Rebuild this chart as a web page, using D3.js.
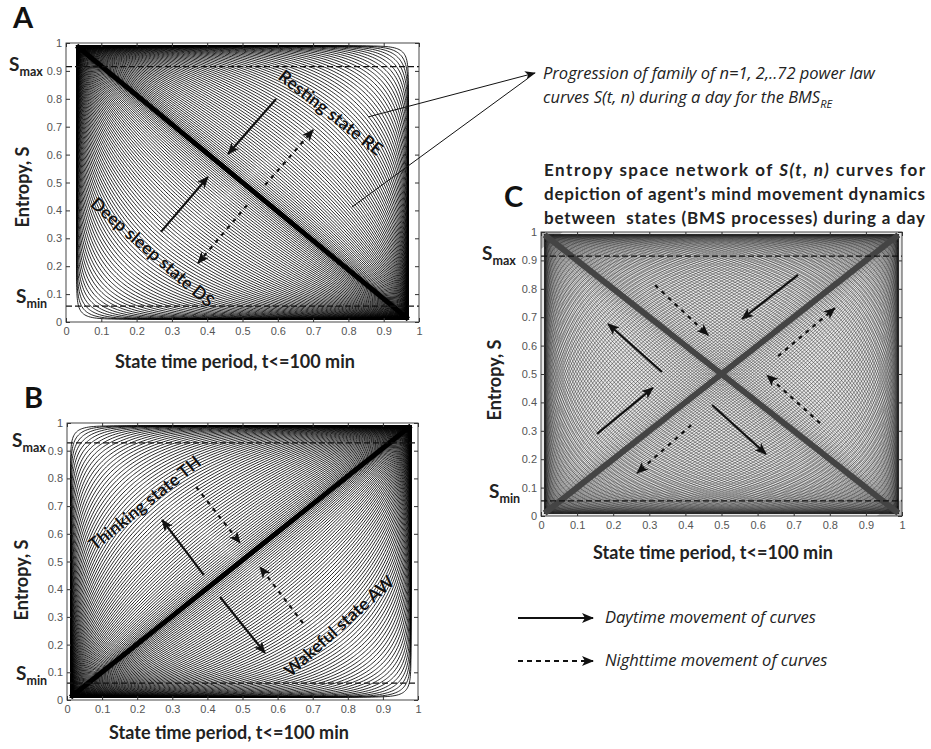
<!DOCTYPE html>
<html>
<head>
<meta charset="utf-8">
<script src="https://cdn.jsdelivr.net/npm/d3@7"></script>
<style>
  body { margin: 0; background: #fff; }
  svg { display: block; }
</style>
</head>
<body>
<svg id="fig" width="931" height="749"></svg>
<script>
// Tick values and labels (same on both axes)
const tickValues = [0, 0.1, 0.2, 0.3, 0.4, 0.5, 0.6, 0.7, 0.8, 0.9, 1];
const tickLabels = ['0', '0.1', '0.2', '0.3', '0.4', '0.5', '0.6', '0.7', '0.8', '0.9', '1'];

// Curve orders of the power law family, n = 1..72
const curveOrders = [1, 2, 3, 4, 5, 6, 7, 8, 9, 10, 11, 12, 13, 14, 15, 16, 17, 18, 19, 20, 21, 22, 23, 24,
  25, 26, 27, 28, 29, 30, 31, 32, 33, 34, 35, 36, 37, 38, 39, 40, 41, 42, 43, 44, 45, 46, 47, 48,
  49, 50, 51, 52, 53, 54, 55, 56, 57, 58, 59, 60, 61, 62, 63, 64, 65, 66, 67, 68, 69, 70, 71, 72];

// Dashed entropy limits for panels A, B, C
const sMaxLevels = [0.915, 0.928, 0.915];
const sMinLevels = [0.057, 0.061, 0.053];

// Movement arrows: [t from, S from, t to, S to, kind]
const arrowsA = [
  [0.595, 0.799, 0.459, 0.602, 'day'],
  [0.564, 0.491, 0.700, 0.688, 'night'],
  [0.269, 0.323, 0.402, 0.520, 'day'],
  [0.513, 0.419, 0.374, 0.211, 'night']
];
const arrowsB = [
  [0.390, 0.451, 0.271, 0.650, 'day'],
  [0.368, 0.769, 0.493, 0.567, 'night'],
  [0.436, 0.372, 0.564, 0.170, 'day'],
  [0.672, 0.278, 0.550, 0.480, 'night']
];
const arrowsC = [
  [0.712, 0.849, 0.557, 0.694, 'day'],
  [0.316, 0.813, 0.463, 0.637, 'night'],
  [0.335, 0.507, 0.186, 0.676, 'day'],
  [0.155, 0.289, 0.310, 0.451, 'day'],
  [0.657, 0.563, 0.814, 0.732, 'night'],
  [0.773, 0.327, 0.626, 0.496, 'night'],
  [0.474, 0.391, 0.623, 0.218, 'day'],
  [0.416, 0.320, 0.266, 0.151, 'night']
];

// State labels: [text, t, S, angle]
const statesA = [['Resting state RE', 0.75, 0.75, 38], ['Deep sleep state DS', 0.245, 0.25, 41]];
const statesB = [['Thinking state TH', 0.222, 0.711, -39], ['Wakeful state AW', 0.775, 0.267, -42]];

const svg = d3.select('#fig');
svg.append('rect').attr('width', 931).attr('height', 749).attr('fill', '#fff');

// Arrow head markers
const defs = svg.append('defs');
defs.append('marker')
  .attr('id', 'head')
  .attr('viewBox', '0 0 12 10')
  .attr('refX', 11).attr('refY', 5)
  .attr('markerWidth', 13).attr('markerHeight', 10)
  .attr('markerUnits', 'userSpaceOnUse')
  .attr('orient', 'auto')
  .append('path').attr('d', 'M0,0 L12,5 L0,10 L3,5 Z').attr('fill', '#111');
defs.append('marker')
  .attr('id', 'headSmall')
  .attr('viewBox', '0 0 12 10')
  .attr('refX', 11).attr('refY', 5)
  .attr('markerWidth', 12).attr('markerHeight', 9)
  .attr('markerUnits', 'userSpaceOnUse')
  .attr('orient', 'auto')
  .append('path').attr('d', 'M0,0 L12,5 L0,10 L3,5 Z').attr('fill', '#111');

// exponent for order n: spreads the family from the diagonal to the corner
function exponentFor(n) {
  const mid = 0.5 + 0.48 * Math.pow((n - 1) / 71, 1.25);
  return 1 / Math.log2(1 / mid);
}

// superellipse power-law curve a^p + b^p = 1, reflected by family
function curvePoints(p, family, box) {
  const m = Math.pow(0.5, 1 / p);
  const N = 60;
  const pts = [];
  for (let i = 0; i <= N; i++) {
    const a = m * Math.sin(i / N * Math.PI / 2);
    pts.push([a, Math.pow(1 - Math.pow(a, p), 1 / p)]);
  }
  for (let i = N; i >= 0; i--) {
    const b = m * Math.sin(i / N * Math.PI / 2);
    pts.push([Math.pow(1 - Math.pow(b, p), 1 / p), b]);
  }
  return pts.map(([a, b]) => {
    let u, v;
    if (family === 'ne') { u = a; v = b; }
    else if (family === 'sw') { u = 1 - a; v = 1 - b; }
    else if (family === 'nw') { u = 1 - a; v = b; }
    else { u = a; v = 1 - b; }
    return [box.t0 + u * (box.t1 - box.t0), box.s0 + v * (box.s1 - box.s0)];
  });
}

function drawPanel(cfg) {
  const x = d3.scaleLinear().domain([0, 1]).range([0, cfg.w]);
  const y = d3.scaleLinear().domain([0, 1]).range([cfg.h, 0]);
  const g = svg.append('g').attr('transform', `translate(${cfg.left},${cfg.top})`);

  defs.append('clipPath').attr('id', 'clip' + cfg.id)
    .append('rect').attr('width', cfg.w).attr('height', cfg.h);

  const plot = g.append('g').attr('clip-path', `url(#clip${cfg.id})`);
  plot.append('rect').attr('width', cfg.w).attr('height', cfg.h).attr('fill', cfg.bg);

  // corner shading
  (cfg.corners || []).forEach(c => {
    plot.append('path')
      .attr('d', d3.line()(c.pts.map(d => [x(d[0]), y(d[1])])) + 'Z')
      .attr('fill', c.fill);
  });

  const line = d3.line().x(d => x(d[0])).y(d => y(d[1]));
  cfg.families.forEach(fam => {
    plot.append('g').selectAll('path')
      .data(curveOrders)
      .enter()
      .append('path')
      .attr('d', n => line(curvePoints(exponentFor(n), fam, cfg.box)))
      .attr('fill', 'none')
      .attr('stroke', cfg.stroke)
      .attr('stroke-width', cfg.lw);
  });

  // n = 1 diagonal(s) drawn heavier
  cfg.diagonals.forEach(fam => {
    plot.append('path')
      .attr('d', line(curvePoints(1, fam, cfg.box)))
      .attr('fill', 'none')
      .attr('stroke', cfg.diagColor)
      .attr('stroke-width', cfg.diagWidth);
  });

  // dashed S limits
  [cfg.sMax, cfg.sMin].forEach(s => {
    g.append('line')
      .attr('x1', 0).attr('x2', cfg.w)
      .attr('y1', y(s)).attr('y2', y(s))
      .attr('stroke', '#111').attr('stroke-width', 1.3)
      .attr('stroke-dasharray', '6,3');
  });

  // axes
  const fmt = (d, i) => tickLabels[i];
  const styleAxis = sel => {
    sel.select('.domain').remove();
    sel.selectAll('line').attr('stroke', '#333');
    sel.selectAll('text').attr('font-family', 'Liberation Sans, Arial, sans-serif')
      .attr('font-size', 11).attr('fill', '#555');
  };
  g.append('g').attr('transform', `translate(0,${cfg.h})`)
    .call(d3.axisBottom(x).tickValues(tickValues).tickFormat(fmt).tickSizeInner(-4).tickSizeOuter(0).tickPadding(5))
    .call(styleAxis);
  g.append('g')
    .call(d3.axisLeft(y).tickValues(tickValues).tickFormat(fmt).tickSizeInner(-4).tickSizeOuter(0).tickPadding(4))
    .call(styleAxis);
  g.append('g')
    .call(d3.axisTop(x).tickValues(tickValues).tickFormat('').tickSizeInner(-4).tickSizeOuter(0))
    .call(styleAxis);
  g.append('g').attr('transform', `translate(${cfg.w},0)`)
    .call(d3.axisRight(y).tickValues(tickValues).tickFormat('').tickSizeInner(-4).tickSizeOuter(0))
    .call(styleAxis);

  g.append('rect').attr('width', cfg.w).attr('height', cfg.h)
    .attr('fill', 'none').attr('stroke', '#333').attr('stroke-width', 0.9);

  // S max / S min labels
  const sLabel = (s, sub, dx, dy) => {
    const t = g.append('text')
      .attr('x', dx).attr('y', y(s) + dy)
      .attr('font-family', 'Lato, sans-serif').attr('font-weight', 'bold')
      .attr('fill', '#222');
    t.append('tspan').attr('font-size', 19).text('S');
    t.append('tspan').attr('font-size', 12.5).attr('dy', 5).text(sub);
  };
  sLabel(cfg.sMax, 'max', cfg.smaxDx, 4);
  sLabel(cfg.sMin, 'min', cfg.sminDx, -3);

  // arrows
  g.append('g').selectAll('line')
    .data(cfg.arrows)
    .enter()
    .append('line')
    .attr('x1', d => x(d[0])).attr('y1', d => y(d[1]))
    .attr('x2', d => x(d[2])).attr('y2', d => y(d[3]))
    .attr('stroke', '#111').attr('stroke-width', 2.2)
    .attr('stroke-dasharray', d => d[4] === 'night' ? '4,5' : null)
    .attr('marker-end', 'url(#head)');

  // state labels
  g.append('g').selectAll('text')
    .data(cfg.states || [])
    .enter()
    .append('text')
    .attr('transform', d => `translate(${x(d[1])},${y(d[2])}) rotate(${d[3]})`)
    .attr('text-anchor', 'middle').attr('dy', '0.35em')
    .attr('font-family', 'Lato, sans-serif').attr('font-weight', 'bold')
    .attr('font-size', 17.5).attr('fill', '#111')
    .attr('stroke', '#fff').attr('stroke-width', 0.6).attr('paint-order', 'stroke')
    .text(d => d[0]);

  // axis titles
  g.append('text')
    .attr('x', cfg.xtDx).attr('y', cfg.h + cfg.xtDy)
    .attr('text-anchor', 'middle')
    .attr('font-family', 'Lato, sans-serif').attr('font-weight', 'bold')
    .attr('font-size', 18).attr('fill', '#222')
    .text('State time period, t<=100 min');
  g.append('text')
    .attr('transform', `translate(${cfg.ytDx},${cfg.ytDy}) rotate(-90)`)
    .attr('text-anchor', 'middle')
    .attr('font-family', 'Lato, sans-serif').attr('font-weight', 'bold')
    .attr('font-size', 18).attr('fill', '#222')
    .text('Entropy, S');

  // panel letter
  svg.append('text')
    .attr('x', cfg.letter[0]).attr('y', cfg.letter[1])
    .attr('font-family', 'Lato, sans-serif').attr('font-weight', 'bold')
    .attr('font-size', 29).attr('fill', '#111')
    .text(cfg.id);

  return { x, y, g };
}

const panelA = drawPanel({
  id: 'A', left: 66, top: 43, w: 353, h: 279,
  box: { t0: 0.03, t1: 0.97, s0: 0.01, s1: 0.99 },
  families: ['ne', 'sw'], diagonals: ['ne'],
  bg: '#fff', stroke: '#000', lw: 0.85, diagColor: '#000', diagWidth: 5,
  sMax: sMaxLevels[0], sMin: sMinLevels[0], smaxDx: -57, sminDx: -50,
  arrows: arrowsA, states: statesA,
  xtDx: 169, xtDy: 46, ytDx: -37, ytDy: 144,
  letter: [13, 28]
});

drawPanel({
  id: 'B', left: 67, top: 423, w: 351, h: 277,
  box: { t0: 0.01, t1: 0.98, s0: 0.01, s1: 0.99 },
  families: ['nw', 'se'], diagonals: ['nw'],
  bg: '#fff', stroke: '#000', lw: 0.85, diagColor: '#000', diagWidth: 5,
  sMax: sMaxLevels[1], sMin: sMinLevels[1], smaxDx: -55, sminDx: -51,
  arrows: arrowsB, states: statesB,
  xtDx: 162, xtDy: 39, ytDx: -39, ytDy: 157,
  letter: [24, 408]
});

drawPanel({
  id: 'C', left: 541, top: 232, w: 361, h: 284,
  box: { t0: 0.01, t1: 0.99, s0: 0.01, s1: 0.99 },
  families: ['ne', 'sw', 'nw', 'se'], diagonals: ['ne', 'nw'],
  bg: '#e8e8e8', stroke: '#2a2a2a', lw: 0.5, diagColor: '#444', diagWidth: 6,
  corners: [
    { pts: [[0, 1], [0, 0.94], [0.06, 1]], fill: '#b0b0b0' },
    { pts: [[1, 0], [1, 0.06], [0.93, 0]], fill: '#b8b8b8' }
  ],
  sMax: sMaxLevels[2], sMin: sMinLevels[2], smaxDx: -59, sminDx: -52,
  arrows: arrowsC, states: [],
  xtDx: 172, xtDy: 43, ytDx: -40, ytDy: 148,
  letter: [504, 207]
});

// Annotation pointing into panel A
const annot = svg.append('g');
const tip = [535, 73];
annot.append('line')
  .attr('x1', 66 + panelA.x(0.856)).attr('y1', 43 + panelA.y(0.735))
  .attr('x2', tip[0]).attr('y2', tip[1])
  .attr('stroke', '#111').attr('stroke-width', 1)
  .attr('marker-end', 'url(#headSmall)');
annot.append('line')
  .attr('x1', 66 + panelA.x(0.81)).attr('y1', 43 + panelA.y(0.412))
  .attr('x2', tip[0] - 8).attr('y2', tip[1] + 6)
  .attr('stroke', '#111').attr('stroke-width', 1);
annot.append('text')
  .attr('x', 543).attr('y', 79)
  .attr('font-family', 'Open Sans, sans-serif').attr('font-style', 'italic')
  .attr('font-size', 16.5).attr('fill', '#222')
  .text('Progression of family of n=1, 2,..72 power law');
const l2 = annot.append('text')
  .attr('x', 543).attr('y', 103)
  .attr('font-family', 'Open Sans, sans-serif').attr('font-style', 'italic')
  .attr('font-size', 16.5).attr('fill', '#222');
l2.append('tspan').text('curves S(t, n) during a day for the BMS');
l2.append('tspan').attr('font-size', 11).attr('dy', 5).text('RE');

// Title of panel C, justified lines
const titleLines = [
  [['Entropy space network of ', 'normal'], ['S(t, n)', 'italic'], [' curves for', 'normal']],
  [['depiction of agent\u2019s mind movement dynamics', 'normal']],
  [['between  states (BMS processes) during a day', 'normal']]
];
titleLines.forEach((parts, i) => {
  const t = svg.append('text')
    .attr('x', 544).attr('y', 176 + i * 24)
    .attr('textLength', 381).attr('lengthAdjust', 'spacing')
    .attr('font-family', 'Lato, sans-serif').attr('font-weight', 'bold')
    .attr('font-size', 17).attr('fill', '#222')
    .attr('xml:space', 'preserve');
  parts.forEach(p => t.append('tspan').attr('font-style', p[1]).text(p[0]));
});

// Legend
const legendItems = [['Daytime movement of curves', null, 618], ['Nighttime movement of curves', '5,4', 661]];
legendItems.forEach(d => {
  svg.append('line')
    .attr('x1', 518).attr('x2', 593).attr('y1', d[2]).attr('y2', d[2])
    .attr('stroke', '#111').attr('stroke-width', 2.2)
    .attr('stroke-dasharray', d[1])
    .attr('marker-end', 'url(#head)');
  svg.append('text')
    .attr('x', 605).attr('y', d[2] + 5)
    .attr('font-family', 'Open Sans, sans-serif').attr('font-style', 'italic')
    .attr('font-size', 16.5).attr('fill', '#222')
    .text(d[0]);
});
</script>
</body>
</html>
